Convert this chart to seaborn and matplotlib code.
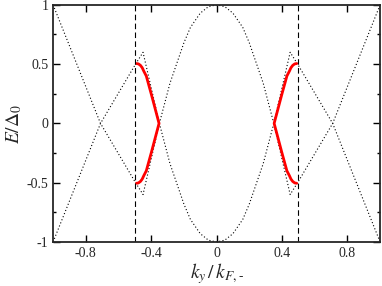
import numpy as np
import pandas as pd
import matplotlib
matplotlib.use("Agg")
import matplotlib.pyplot as plt
import seaborn as sns
from matplotlib.ticker import MultipleLocator, FixedLocator

# === Data ===
# dotted band starting at (-1, 1); the second band is its mirror in E
band_k = [-1.00, -0.71, -0.50, -0.45, -0.35, -0.285, -0.245, -0.20, -0.16, -0.10, -0.05, 0.00,
          0.05, 0.10, 0.16, 0.20, 0.245, 0.285, 0.35, 0.45, 0.50, 0.71, 1.00]
band_up = [1.00, 0.00, -0.49, -0.60, 0.00, 0.34, 0.50, 0.68, 0.81, 0.93, 0.985, 1.00,
           0.985, 0.93, 0.81, 0.68, 0.50, 0.34, 0.00, -0.60, -0.49, 0.00, 1.00]
band_dn = [-1.00, 0.00, 0.49, 0.60, 0.00, -0.34, -0.50, -0.68, -0.81, -0.93, -0.985, -1.00,
           -0.985, -0.93, -0.81, -0.68, -0.50, -0.34, 0.00, 0.60, 0.49, 0.00, -1.00]

# red bound-state branches
red_left_k = [-0.49, -0.478, -0.466, -0.455, -0.445, -0.43, -0.40, -0.375, -0.352,
              -0.375, -0.40, -0.43, -0.445, -0.455, -0.466, -0.478, -0.49]
red_right_k = [0.49, 0.478, 0.466, 0.455, 0.445, 0.43, 0.40, 0.375, 0.352,
               0.375, 0.40, 0.43, 0.445, 0.455, 0.466, 0.478, 0.49]
red_E = [0.505, 0.502, 0.49, 0.47, 0.44, 0.40, 0.25, 0.12, 0.00,
         -0.12, -0.25, -0.40, -0.44, -0.47, -0.49, -0.502, -0.505]

vlines_k = [-0.5, 0.5]

xticks = [-0.8, -0.4, 0, 0.4, 0.8]
xticklabels = ["-0.8", "-0.4", "0", "0.4", "0.8"]
yticks = [-1, -0.5, 0, 0.5, 1]
yticklabels = ["-1", "-0.5", "0", "0.5", "1"]

# === Style ===
sns.set_style("ticks")
plt.rcParams["font.family"] = ["Liberation Serif", "DejaVu Serif"]
plt.rcParams["mathtext.fontset"] = "stix"

fig = plt.figure(figsize=(3.82, 2.86), dpi=100)
ax = fig.add_axes([0.139, 0.154, 0.856, 0.829])

dot = (0, (1, 2))
for ys in (band_up, band_dn):
    sns.lineplot(x=band_k, y=ys, ax=ax, sort=False, estimator=None,
                 color="black", linewidth=0.8, linestyle=dot)

for ks in (red_left_k, red_right_k):
    sns.lineplot(x=ks, y=red_E, ax=ax, sort=False, estimator=None,
                 color="red", linewidth=2.0, solid_capstyle="round")

for k in vlines_k:
    ax.axvline(k, color="black", linewidth=0.8, linestyle=(0, (5, 3)))

ax.set_xlim(-1, 1)
ax.set_ylim(-1, 1)
ax.set_xticks(xticks)
ax.set_xticklabels(xticklabels)
ax.set_yticks(yticks)
ax.set_yticklabels(yticklabels)
ax.yaxis.set_minor_locator(FixedLocator([-0.75, -0.25, 0.25, 0.75]))

ax.tick_params(which="both", direction="in", top=True, right=True,
               labelsize=10, width=1.0, color="black")
ax.tick_params(which="major", length=5)
ax.tick_params(which="minor", length=2.5)
for s in ax.spines.values():
    s.set_linewidth(1.3)

ax.set_xlabel(r"$k_y\,/\,k_{F,\text{-}}$", fontsize=14, labelpad=1)
ax.set_ylabel(r"$E/\Delta_0$", fontsize=14, labelpad=2)

fig.savefig("out.png", dpi=100)
